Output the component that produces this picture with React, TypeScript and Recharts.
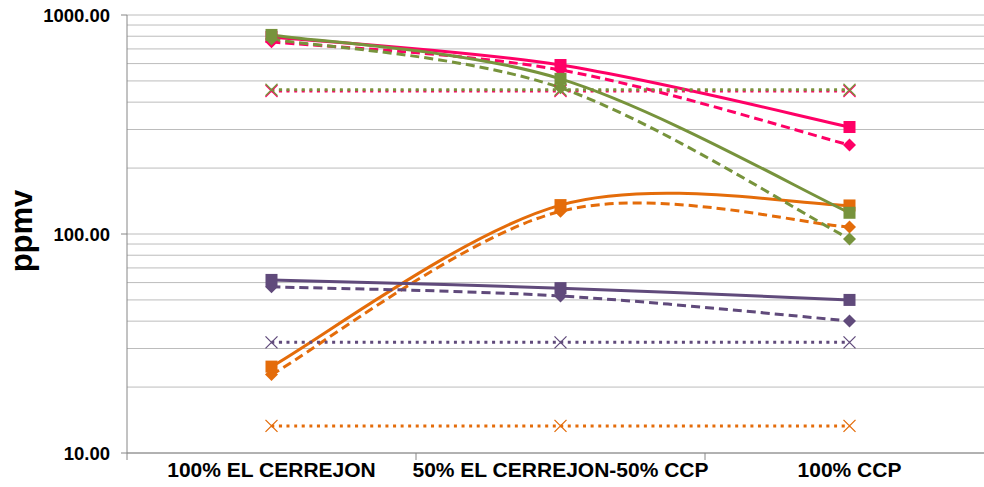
import React from 'react';
import { LineChart, Line, XAxis, YAxis, CartesianGrid } from 'recharts';

const categories = ['100% EL CERREJON', '50% EL CERREJON-50% CCP', '100% CCP'];

const pinkSolid = [794, 591, 308];
const pinkDashed = [754, 561, 255];
const pinkDotted = [450, 450, 450];
const orangeSolid = [24.8, 135.5, 135];
const orangeDashed = [22.8, 127, 107.6];
const orangeDotted = [13.3, 13.3, 13.3];
const purpleSolid = [61.7, 56.6, 50];
const purpleDashed = [57.4, 52.1, 40.1];
const purpleDotted = [32, 32, 32];
const greenSolid = [811, 511, 125];
const greenDashed = [777, 465, 95];
const greenDotted = [456, 456, 456];

const yTicks = [10, 20, 30, 40, 50, 60, 70, 80, 90, 100, 200, 300, 400, 500, 600, 700, 800, 900, 1000];
const yLabelTicks = [10, 100, 1000];
const xTicks = [0, 0.5, 1, 1.5, 2, 2.5, 3];

const PINK = '#FF0066';
const GREEN = '#77933C';
const ORANGE = '#E46C0A';
const PURPLE = '#604A7B';
const FONT = '"Liberation Sans", Arial, sans-serif';

const data = categories.map((name, i) => ({
  x: i + 0.5,
  name,
  pinkSolid: pinkSolid[i],
  pinkDashed: pinkDashed[i],
  pinkDotted: pinkDotted[i],
  orangeSolid: orangeSolid[i],
  orangeDashed: orangeDashed[i],
  orangeDotted: orangeDotted[i],
  purpleSolid: purpleSolid[i],
  purpleDashed: purpleDashed[i],
  purpleDotted: purpleDotted[i],
  greenSolid: greenSolid[i],
  greenDashed: greenDashed[i],
  greenDotted: greenDotted[i],
}));

// excel style smoothing (catmull-rom, ends repeat the end point)
const excelSmooth = (ctx: any) => {
  let pts: number[][] = [];
  return {
    areaStart() {},
    areaEnd() {},
    lineStart() { pts = []; },
    point(x: number, y: number) { pts.push([+x, +y]); },
    lineEnd() {
      if (!pts.length) return;
      ctx.moveTo(pts[0][0], pts[0][1]);
      for (let i = 0; i < pts.length - 1; i++) {
        const p0 = pts[i - 1] || pts[i];
        const p1 = pts[i];
        const p2 = pts[i + 1];
        const p3 = pts[i + 2] || pts[i + 1];
        ctx.bezierCurveTo(
          p1[0] + (p2[0] - p0[0]) / 6, p1[1] + (p2[1] - p0[1]) / 6,
          p2[0] - (p3[0] - p1[0]) / 6, p2[1] - (p3[1] - p1[1]) / 6,
          p2[0], p2[1],
        );
      }
    },
  };
};

const square = (color: string) => (p: any) => (
  <rect key={`s-${p.index}`} x={p.cx - 6} y={p.cy - 6} width={12} height={12} fill={color} />
);
const diamond = (color: string) => (p: any) => (
  <path key={`d-${p.index}`} d={`M${p.cx},${p.cy - 6.5}L${p.cx + 6.5},${p.cy}L${p.cx},${p.cy + 6.5}L${p.cx - 6.5},${p.cy}Z`} fill={color} />
);
const cross = (color: string) => (p: any) => (
  <path key={`c-${p.index}`} d={`M${p.cx - 6},${p.cy - 6}L${p.cx + 6},${p.cy + 6}M${p.cx + 6},${p.cy - 6}L${p.cx - 6},${p.cy + 6}`} stroke={color} strokeWidth={1.3} fill="none" />
);

const YTick = (p: any) => {
  const v = p.payload.value;
  if (!yLabelTicks.includes(v)) return <g />;
  return (
    <g>
      <line x1={p.x - 6} x2={p.x} y1={p.y} y2={p.y} stroke="#868686" />
      <text x={p.x - 17} y={p.y} dy={6.5} textAnchor="end" fontFamily={FONT} fontWeight="bold" fontSize={18.5} fill="#000">
        {v.toFixed(2)}
      </text>
    </g>
  );
};

const XTick = (p: any) => {
  const v = p.payload.value;
  if (Number.isInteger(v)) {
    return <line x1={p.x} x2={p.x} y1={p.y} y2={p.y + 7} stroke="#868686" />;
  }
  return (
    <text x={p.x} y={p.y} dy={24} textAnchor="middle" fontFamily={FONT} fontWeight="bold" fontSize={21} fill="#000">
      {categories[Math.floor(v)]}
    </text>
  );
};

const lineProps = { type: excelSmooth as any, isAnimationActive: false, activeDot: false as const };
const DASH = '9 5';
const DOT = '3 4.6';

export default function App() {
  return (
    <div style={{ position: 'fixed', left: 0, top: 0, width: 984, height: 487, overflow: 'hidden', background: '#fff' }}>
      <LineChart width={998} height={487} data={data} margin={{ top: 15, right: 4, bottom: 0, left: 0 }}>
        <CartesianGrid horizontal vertical={false} stroke="#bcbcbc" />
        <XAxis
          dataKey="x"
          type="number"
          domain={[0, categories.length]}
          ticks={xTicks}
          interval={0}
          height={34}
          tickSize={0}
          tickMargin={0}
          tickLine={false}
          axisLine={{ stroke: '#868686' }}
          tick={<XTick />}
        />
        <YAxis
          type="number"
          scale="log"
          domain={[10, 1000]}
          ticks={yTicks}
          interval={0}
          width={127}
          tickSize={0}
          tickMargin={0}
          tickLine={false}
          axisLine={{ stroke: '#868686' }}
          tick={<YTick />}
          label={{
            content: () => (
              <text x={32} y={231} transform="rotate(-90 32 231)" textAnchor="middle" fontFamily={FONT} fontWeight="bold" fontSize={31} fill="#000">
                ppmv
              </text>
            ),
          }}
        />
        <Line {...lineProps} dataKey="pinkDashed" stroke={PINK} strokeWidth={3} strokeDasharray={DASH} dot={diamond(PINK)} />
        <Line {...lineProps} dataKey="pinkSolid" stroke={PINK} strokeWidth={3} dot={square(PINK)} />
        <Line {...lineProps} dataKey="pinkDotted" stroke={PINK} strokeWidth={3} strokeDasharray={DOT} dot={cross(PINK)} />
        <Line {...lineProps} dataKey="orangeDashed" stroke={ORANGE} strokeWidth={3} strokeDasharray={DASH} dot={diamond(ORANGE)} />
        <Line {...lineProps} dataKey="orangeSolid" stroke={ORANGE} strokeWidth={3} dot={square(ORANGE)} />
        <Line {...lineProps} dataKey="orangeDotted" stroke={ORANGE} strokeWidth={3} strokeDasharray={DOT} dot={cross(ORANGE)} />
        <Line {...lineProps} dataKey="purpleDashed" stroke={PURPLE} strokeWidth={3} strokeDasharray={DASH} dot={diamond(PURPLE)} />
        <Line {...lineProps} dataKey="purpleSolid" stroke={PURPLE} strokeWidth={3} dot={square(PURPLE)} />
        <Line {...lineProps} dataKey="purpleDotted" stroke={PURPLE} strokeWidth={3} strokeDasharray={DOT} dot={cross(PURPLE)} />
        <Line {...lineProps} dataKey="greenDashed" stroke={GREEN} strokeWidth={3} strokeDasharray={DASH} dot={diamond(GREEN)} />
        <Line {...lineProps} dataKey="greenSolid" stroke={GREEN} strokeWidth={3} dot={square(GREEN)} />
        <Line {...lineProps} dataKey="greenDotted" stroke={GREEN} strokeWidth={3} strokeDasharray={DOT} dot={cross(GREEN)} />
      </LineChart>
    </div>
  );
}
